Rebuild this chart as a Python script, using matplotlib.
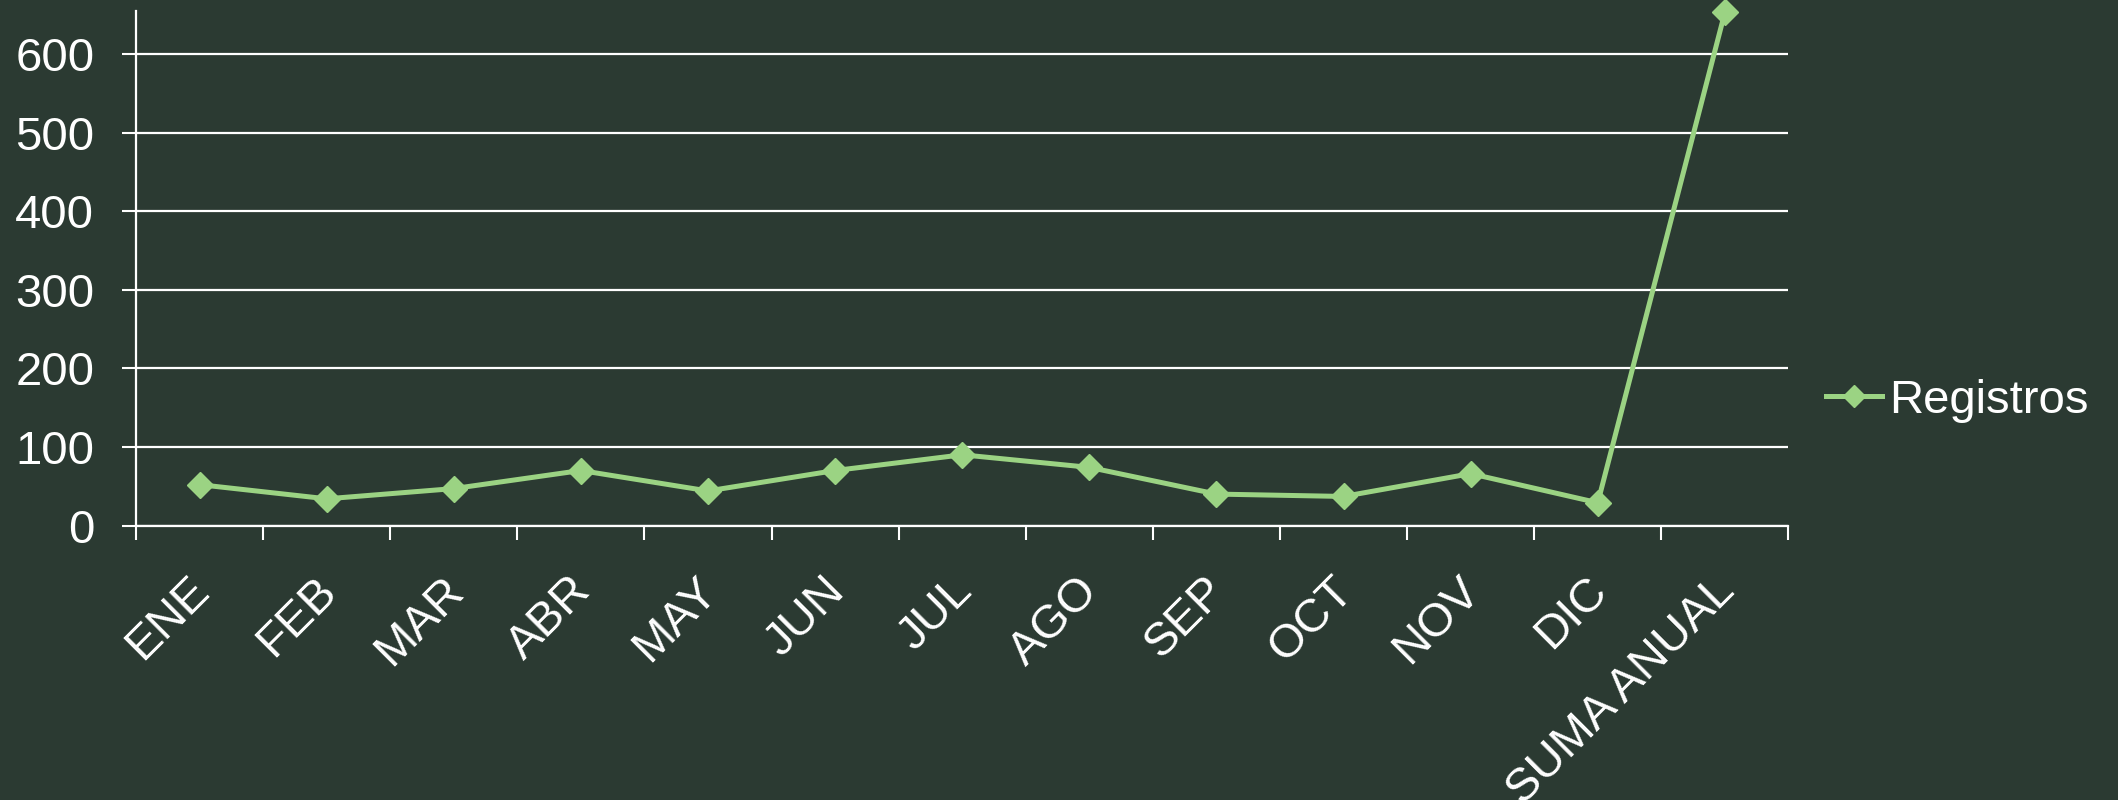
import matplotlib
matplotlib.use("Agg")
import matplotlib.pyplot as plt

meses = ["ENE", "FEB", "MAR", "ABR", "MAY", "JUN", "JUL", "AGO",
         "SEP", "OCT", "NOV", "DIC", "SUMA ANUAL"]
registros = [52, 34, 47, 70, 44, 70, 90, 74, 40, 37, 66, 29, 653]
y_ticks = [0, 100, 200, 300, 400, 500, 600]

bg = "#2b3a32"
verde = "#9bd383"

plt.rcParams["font.family"] = ["Liberation Sans", "DejaVu Sans"]

fig = plt.figure(figsize=(21.18, 8), dpi=100, facecolor=bg)
ax = fig.add_axes([0.0642, 0.3431, 0.7802, 0.6434], facecolor=bg)

x = [i + 0.5 for i in range(len(meses))]
ax.plot(x, registros, color=verde, lw=3.6, marker="D", ms=13.5,
        mec=verde, mfc=verde, clip_on=False, label="Registros", zorder=3)

ax.set_xlim(0, len(meses))
ax.set_ylim(0, 655)
ax.set_yticks(y_ticks)
ax.set_xticks(range(len(meses) + 1))
ax.set_xticklabels([])
# labels sit on invisible minor ticks, nudged a bit left of the centres
ax.set_xticks([v - 0.1 for v in x], minor=True)
ax.set_xticklabels(meses, minor=True, rotation=45, ha="right", va="top",
                   rotation_mode="anchor", fontsize=34, color="white")
ax.tick_params(axis="x", which="minor", length=0, pad=31)
ax.tick_params(axis="x", which="major", length=10, width=1.5, color="white")
ax.tick_params(axis="y", length=10, width=1.5, color="white",
               labelsize=34, labelcolor="white", pad=20)

ax.grid(axis="y", color="white", lw=1.6)
ax.set_axisbelow(True)
for s in ["top", "right"]:
    ax.spines[s].set_visible(False)
for s in ["left", "bottom"]:
    ax.spines[s].set_color("white")
    ax.spines[s].set_linewidth(1.6)

leg = ax.legend(loc="center left", bbox_to_anchor=(0.862, 0.499),
                bbox_transform=fig.transFigure, frameon=False, fontsize=34,
                handlelength=1.2, handletextpad=0.15, borderpad=0,
                borderaxespad=0, labelcolor="white", markerscale=0.8)

fig.savefig("out.png", facecolor=bg)
